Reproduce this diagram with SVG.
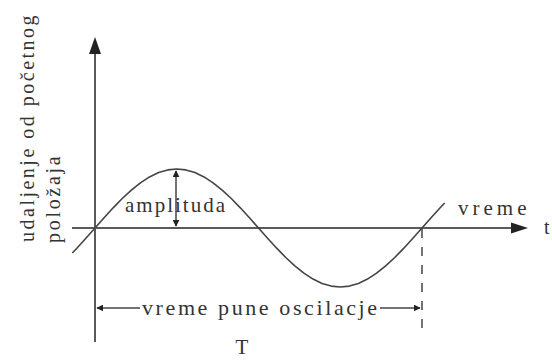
<svg xmlns="http://www.w3.org/2000/svg" width="552" height="360" viewBox="0 0 552 360">
  <style>
    .axis { stroke: #5a5a5a; stroke-width: 2; fill: none; }
    .curve { stroke: #444; stroke-width: 1.6; fill: none; stroke-linejoin: round; }
    .thin { stroke: #444; stroke-width: 1.5; fill: none; }
    .head { fill: #222; }
  </style>
  <defs>
    <marker id="sm" viewBox="0 0 10 10" refX="9" refY="5" markerWidth="7" markerHeight="7" markerUnits="userSpaceOnUse" orient="auto-start-reverse">
      <path d="M0,0 L10,5 L0,10 z" fill="#222"/>
    </marker>
  </defs>
  <rect width="552" height="360" fill="#fff"/>

  <g id="y-axis">
    <line class="axis" x1="95" y1="342" x2="95" y2="52"/>
    <path class="head" d="M95,37 L101,54 L89,54 z"/>
  </g>
  <g id="x-axis">
    <line class="axis" x1="72" y1="228" x2="513" y2="228"/>
    <path class="head" d="M528,228 L511,222.5 L511,233.5 z"/>
  </g>

  <g id="y-label" font-family="Liberation Serif, serif" fill="#333">
    <text transform="translate(34,242) rotate(-90)" font-size="20" letter-spacing="2.5">udaljenje od početnog</text>
    <text transform="translate(60,243) rotate(-90)" font-size="20" letter-spacing="2.7">položaja</text>
  </g>

  <g id="sine">
    <polyline class="curve" points="72.3,252.93 76.83,248.18 85.92,238.24 95,228 104.08,217.76 113.17,207.82 122.25,198.5 131.33,190.08 140.42,182.81 149.5,176.91 158.58,172.56 167.67,169.9 176.75,169 185.83,169.9 194.92,172.56 204,176.91 213.08,182.81 222.17,190.08 231.25,198.5 240.33,207.82 249.42,217.76 258.5,228 267.58,238.24 276.67,248.18 285.75,257.5 294.83,265.92 303.92,273.19 313,279.09 322.08,283.44 331.17,286.1 340.25,287 349.33,286.1 358.42,283.44 367.5,279.09 376.58,273.19 385.67,265.92 394.75,257.5 403.83,248.18 412.92,238.24 422,228 431.08,217.76 440.17,207.82 444.7,203.07"/>
  </g>

  <g id="amplitude">
    <line class="thin" x1="176" y1="171" x2="176" y2="226" marker-start="url(#sm)" marker-end="url(#sm)"/>
    <text x="125" y="212" font-family="Liberation Serif, serif" fill="#333" font-size="21" letter-spacing="2">amplituda</text>
  </g>

  <g id="time-label" font-family="Liberation Serif, serif" fill="#333">
    <text x="458" y="215" font-size="21" letter-spacing="4">vreme</text>
    <text x="544" y="234" font-size="20">t</text>
  </g>

  <g id="connectors">
    <line class="thin" x1="422" y1="229" x2="422" y2="336" stroke-dasharray="9,9"/>
    <line class="thin" x1="97" y1="308" x2="140" y2="308" marker-start="url(#sm)"/>
    <line class="thin" x1="380" y1="308" x2="420" y2="308" marker-end="url(#sm)"/>
  </g>

  <g id="period" font-family="Liberation Serif, serif" fill="#333">
    <text x="142" y="315" font-size="22" letter-spacing="2.6">vreme pune oscilacje</text>
    <text x="242" y="354" font-size="21" text-anchor="middle">T</text>
  </g>
</svg>
